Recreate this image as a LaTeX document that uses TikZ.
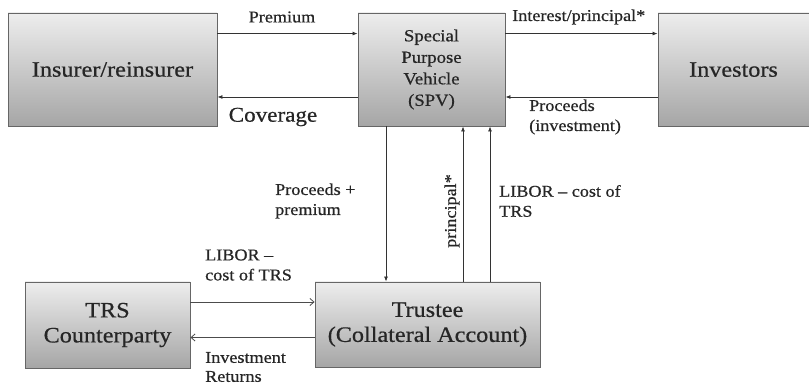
\documentclass[tikz,border=0pt]{standalone}
\usepackage{fontspec}
\setmainfont[FakeStretch=1.1,FakeBold=0.6]{Liberation Serif}
\usetikzlibrary{arrows.meta,shadows}

\tikzset{
	party/.style={draw=black!60, line width=0.9pt, top color=black!7, bottom color=black!35,
		drop shadow={shadow xshift=1.2pt, shadow yshift=-1.2pt, opacity=0.25},
		align=center, text=black!85, inner sep=0pt},
	bigtext/.style={font=\fontsize{22}{25}\selectfont},
	lbl/.style={text=black!85, font=\fontsize{16.5}{20}\selectfont, inner sep=0pt},
	flow/.style={draw=black!80, line width=0.8pt, -{Latex[length=5pt,width=4pt]}},
	openflow/.style={draw=black!70, line width=0.8pt, -{Straight Barb[length=4pt,width=7pt]}}
}

\begin{document}
\begin{tikzpicture}[x=1pt, y=-1pt]
		\useasboundingbox (0,0) rectangle (809,387);

		\node[party, bigtext, minimum width=209pt, minimum height=113pt] (insurer) at (112.5, 69.5) {Insurer/reinsurer};
		\node[party, font=\fontsize{17}{21.5}\selectfont, minimum width=147pt, minimum height=113pt] (spv) at (431.5, 69.5) {Special\\Purpose\\Vehicle\\(SPV)};
		\node[party, bigtext, minimum width=157pt, minimum height=113pt, text depth=0pt] (investors) at (736.5, 69.5) {\hspace*{-6pt}Investors};
		\node[party, bigtext, minimum width=165pt, minimum height=86pt] (trs) at (107.5, 325) {TRS\\Counterparty};
		\node[party, bigtext, minimum width=225pt, minimum height=85pt] (trustee) at (427.5, 324.5) {Trustee\\(Collateral Account)};

		\draw[flow] ([yshift=-21pt]insurer.north east) -- ([yshift=-21pt]spv.north west);
		\draw[flow] ([yshift=-27.5pt]spv.west) -- ([yshift=-27.5pt]insurer.east);
		\draw[flow] ([yshift=-21pt]spv.north east) -- ([yshift=-21pt]investors.north west);
		\draw[flow] ([yshift=-27.5pt]investors.west) -- ([yshift=-27.5pt]spv.east);

		\draw[flow] ([xshift=-45.5pt]spv.south) -- ([xshift=-45.5pt]spv.south |- trustee.north);
		\draw[flow] ([xshift=31.5pt]spv.south |- trustee.north) -- ([xshift=31.5pt]spv.south);
		\draw[flow] ([xshift=58.5pt]spv.south |- trustee.north) -- ([xshift=58.5pt]spv.south);

		\draw[openflow] ([yshift=23pt]trs.east) -- ([yshift=23pt]trs.east -| trustee.west);
		\draw[openflow] ([yshift=-13pt]trustee.west) -- ([yshift=-13pt]trustee.west -| trs.east);

		\node[lbl] (premium) at (282, 17) {Premium};
		\node[lbl, font=\fontsize{21}{24}\selectfont] (coverage) at (273, 117) {Coverage};
		\node[lbl, anchor=west] (interest) at (512, 17) {Interest/principal*};
		\node[lbl, anchor=west, align=left] (proceeds) at (529, 117) {Proceeds\\(investment)};
		\node[lbl, anchor=west, align=left] (proceedsprem) at (275, 201) {Proceeds +\\premium};
		\node[lbl, rotate=90] (principal) at (452, 211) {principal*};
		\node[lbl, anchor=west, align=left] (liborspv) at (499, 201) {LIBOR -- cost of\\TRS};
		\node[lbl, anchor=west, align=left] (libortrs) at (205, 265) {LIBOR --\\cost of TRS};
		\node[lbl, anchor=west, align=left, font=\fontsize{16.5}{19}\selectfont] (returns) at (205, 367) {Investment\\Returns};
	\end{tikzpicture}
\end{document}
